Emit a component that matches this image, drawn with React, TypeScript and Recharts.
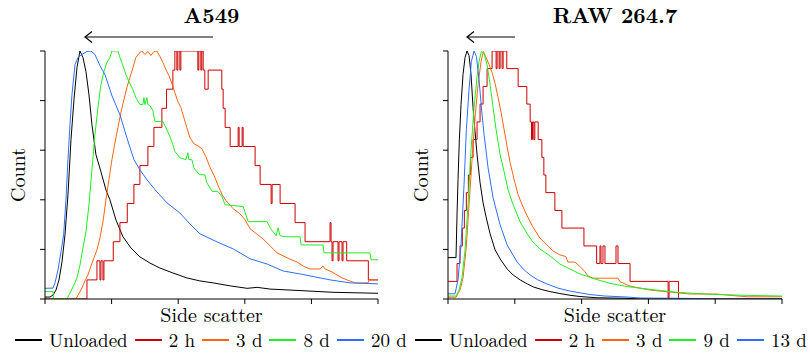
import { Line, LineChart, XAxis, YAxis } from "recharts";

type Row = [number, number];

const X_TICKS = [0, 20, 40, 60, 80, 100];
const Y_TICKS = [0, 0.2, 0.4, 0.6, 0.8, 1];

const SERIES_COLORS = ["#000000", "#cc0000", "#ff6611", "#22ee22", "#2b6fff"];

const A549_LABELS = ["Unloaded", "2 h", "3 d", "8 d", "20 d"];
const RAW_LABELS = ["Unloaded", "2 h", "3 d", "9 d", "13 d"];

// ---- A549, side scatter histograms (normalised to mode) ----
const a549Unloaded: Row[] = [
  [0, 0.008], [1.5, 0.008], [2.4, 0.016], [3.3, 0.036], [4.2, 0.077], [5.1, 0.149],
  [6.0, 0.259], [6.9, 0.42], [7.8, 0.642], [8.7, 0.804], [9.6, 0.933], [10.5, 1.0],
  [11.4, 0.974], [12.3, 0.917], [13.2, 0.824], [14.1, 0.703], [15.3, 0.582], [16.8, 0.513],
  [18.3, 0.44], [19.5, 0.4], [21.3, 0.319], [23.4, 0.251], [25.8, 0.206], [28.5, 0.17],
  [31.5, 0.145], [34.5, 0.125], [38.4, 0.105], [42.6, 0.085], [46.5, 0.073], [50.5, 0.065],
  [55.6, 0.053], [60.7, 0.043], [63.7, 0.047], [67.6, 0.04], [76.6, 0.034], [86.5, 0.027],
  [100, 0.023],
];

const a549TwoHours: Row[] = [
  [0, 0], [12.6, 0.077], [15.6, 0.154], [16.5, 0.077], [16.8, 0.154], [17.4, 0.077],
  [17.7, 0.154], [20.5, 0.231], [22.5, 0.308], [24.7, 0.385], [26.7, 0.462], [28.5, 0.538],
  [30.9, 0.615], [32.7, 0.692], [35.1, 0.769], [36.5, 0.846], [38.4, 0.923], [39.0, 1.0],
  [39.6, 0.923], [39.9, 1.0], [40.5, 0.923], [40.8, 1.0], [45.9, 0.923], [46.2, 1.0],
  [46.8, 0.923], [47.1, 1.0], [47.5, 0.923], [48.0, 0.846], [49.0, 0.923], [53.1, 0.846],
  [53.5, 0.769], [54.1, 0.692], [55.6, 0.615], [58.0, 0.692], [58.3, 0.615], [59.2, 0.692],
  [59.5, 0.615], [63.1, 0.538], [64.6, 0.462], [67.9, 0.385], [68.2, 0.462], [70.6, 0.385],
  [75.1, 0.308], [78.1, 0.231], [85.6, 0.308], [85.9, 0.231], [86.2, 0.154], [86.5, 0.231],
  [88.0, 0.154], [88.3, 0.231], [89.2, 0.154], [89.5, 0.231], [90.6, 0.154], [97.1, 0.077],
  [100, 0.077],
];

const a549ThreeDays: Row[] = [
  [0, 0], [9.3, 0], [9.9, 0.016], [10.8, 0.036], [12.0, 0.073], [12.9, 0.097], [13.8, 0.133],
  [14.7, 0.166], [15.6, 0.198], [16.5, 0.246], [17.4, 0.311], [18.3, 0.4], [19.2, 0.481],
  [20.1, 0.562], [21.0, 0.63], [21.9, 0.691], [22.8, 0.752], [23.7, 0.804], [24.6, 0.853],
  [25.5, 0.893], [26.4, 0.933], [27.3, 0.974], [28.2, 0.99], [29.1, 1.0], [30.0, 0.986],
  [30.9, 0.998], [31.8, 0.982], [32.7, 0.998], [33.6, 1.0], [34.5, 0.978], [35.4, 0.954],
  [36.3, 0.925], [37.2, 0.901], [38.1, 0.869], [39.0, 0.832], [39.9, 0.796], [40.8, 0.772],
  [41.7, 0.731], [42.6, 0.691], [43.5, 0.651], [44.7, 0.626], [45.9, 0.618], [47.1, 0.606],
  [48.3, 0.574], [49.5, 0.533], [50.8, 0.497], [52.0, 0.457], [53.2, 0.42], [54.4, 0.396],
  [56.5, 0.364], [58.6, 0.343], [60.1, 0.319], [61.6, 0.283], [63.1, 0.267], [65.5, 0.242],
  [67.6, 0.214], [69.7, 0.186], [72.7, 0.166], [75.7, 0.149], [77.5, 0.133], [79.6, 0.121],
  [82.6, 0.121], [83.5, 0.133], [84.1, 0.121], [86.2, 0.109], [87.7, 0.097], [89.2, 0.085],
  [90.7, 0.077], [93.1, 0.065], [97.0, 0.065], [97.3, 0.077], [100, 0.077],
];

const a549EightDays: Row[] = [
  [0, 0.03], [2.4, 0.03], [2.55, 0], [6.6, 0], [6.9, 0.008], [7.8, 0.032], [8.7, 0.057],
  [9.6, 0.085], [10.5, 0.137], [11.4, 0.206], [12.3, 0.271], [13.2, 0.38], [14.1, 0.521],
  [15.0, 0.663], [15.9, 0.772], [16.8, 0.865], [17.7, 0.917], [18.6, 0.954], [19.5, 0.974],
  [20.1, 1.0], [21.9, 1.0], [22.5, 0.974], [23.4, 0.941], [24.3, 0.905], [25.2, 0.877],
  [26.4, 0.844], [27.3, 0.812], [28.5, 0.784], [29.4, 0.784], [29.7, 0.812], [30.0, 0.784],
  [30.6, 0.812], [30.9, 0.784], [31.5, 0.78], [32.4, 0.76], [33.0, 0.716], [35.4, 0.716],
  [36.3, 0.691], [37.5, 0.655], [38.4, 0.622], [39.0, 0.595], [40.5, 0.57], [42.3, 0.562],
  [42.9, 0.59], [43.2, 0.562], [44.1, 0.562], [44.7, 0.529], [45.6, 0.513], [46.5, 0.501],
  [48.0, 0.501], [48.6, 0.469], [50.2, 0.434], [51.9, 0.434], [53.2, 0.412], [54.1, 0.38],
  [59.5, 0.373], [61.0, 0.312], [66.7, 0.312], [67.6, 0.287], [69.4, 0.255], [70.0, 0.287],
  [70.6, 0.255], [72.1, 0.251], [76.6, 0.251], [76.9, 0.218], [83.5, 0.218], [83.8, 0.186],
  [97.6, 0.186], [97.9, 0.158], [100, 0.158],
];

const a549TwentyDays: Row[] = [
  [0, 0.043], [2.4, 0.044], [3.0, 0.065], [3.9, 0.117], [4.8, 0.19], [5.6, 0.259],
  [6.3, 0.4], [6.9, 0.562], [7.5, 0.703], [8.1, 0.824], [9.0, 0.945], [9.9, 0.974],
  [11.1, 0.986], [12.6, 0.998], [13.8, 1.0], [15.0, 0.986], [16.5, 0.941], [18.0, 0.905],
  [20.1, 0.82], [22.5, 0.743], [24.6, 0.65], [26.7, 0.562], [28.5, 0.521], [30.6, 0.481],
  [33.6, 0.432], [36.6, 0.388], [40.5, 0.347], [43.5, 0.303], [46.5, 0.263], [51.7, 0.23],
  [56.5, 0.202], [61.6, 0.162], [66.7, 0.141], [71.5, 0.113], [76.6, 0.101], [85.6, 0.077],
  [91.6, 0.065], [100, 0.061],
];

// ---- RAW 264.7 ----
const rawUnloaded: Row[] = [
  [0, 0.167], [2.4, 0.167], [2.7, 0.339], [3.0, 0.481], [3.4, 0.642], [3.9, 0.784],
  [4.5, 0.905], [5.1, 0.974], [5.7, 1.0], [6.3, 0.982], [6.9, 0.905], [7.5, 0.772],
  [8.1, 0.675], [8.7, 0.582], [9.6, 0.469], [10.5, 0.388], [11.4, 0.331], [12.6, 0.263],
  [14.1, 0.198], [15.6, 0.162], [17.7, 0.121], [19.5, 0.097], [21.6, 0.077], [23.7, 0.061],
  [25.7, 0.048], [28.1, 0.038], [30.5, 0.03], [33.5, 0.022], [36.5, 0.015], [39.5, 0.01],
  [44.6, 0.005], [53.0, 0.003], [57.5, 0], [100, 0],
];

const rawTwoHours: Row[] = [
  [0, 0.071], [2.7, 0.143], [3.6, 0.214], [4.3, 0.286], [4.9, 0.357], [5.5, 0.429],
  [6.1, 0.5], [6.7, 0.571], [7.5, 0.643], [8.7, 0.714], [9.6, 0.786], [10.5, 0.857],
  [11.7, 0.929], [13.2, 1.0], [14.4, 0.929], [14.7, 1.0], [15.3, 0.929], [15.6, 1.0],
  [16.2, 0.929], [16.5, 1.0], [17.6, 0.929], [21.0, 0.857], [23.6, 0.786], [24.6, 0.714],
  [25.0, 0.643], [25.3, 0.714], [25.7, 0.643], [26.0, 0.714], [27.0, 0.643], [28.1, 0.571],
  [28.7, 0.5], [29.3, 0.429], [32.0, 0.357], [34.1, 0.286], [40.7, 0.214], [44.5, 0.143],
  [45.5, 0.214], [45.8, 0.143], [46.4, 0.214], [47.0, 0.143], [50.3, 0.214], [50.9, 0.143],
  [54.5, 0.071], [65.9, 0], [66.2, 0.071], [69.0, 0], [100, 0],
];

const rawThreeDays: Row[] = [
  [0, 0.007], [2.4, 0.007], [3.6, 0.036], [4.5, 0.085], [5.4, 0.198], [6.3, 0.38],
  [7.2, 0.562], [8.1, 0.731], [9.0, 0.865], [9.9, 0.958], [10.6, 0.998], [11.4, 0.974],
  [12.3, 0.945], [13.2, 0.913], [14.1, 0.869], [15.0, 0.812], [15.9, 0.752], [16.8, 0.683],
  [17.7, 0.614], [18.6, 0.55], [19.8, 0.481], [21.0, 0.42], [22.2, 0.38], [23.7, 0.335],
  [25.4, 0.291], [27.5, 0.246], [29.6, 0.218], [31.4, 0.194], [33.5, 0.178], [35.3, 0.171],
  [35.9, 0.149], [38.0, 0.149], [39.5, 0.131], [41.0, 0.11], [41.9, 0.093], [43.4, 0.084],
  [50.9, 0.084], [51.5, 0.07], [53.6, 0.057], [55.1, 0.05], [60.5, 0.036], [72.5, 0.02],
  [80.5, 0.02], [83.5, 0.016], [89.5, 0.009], [100, 0.009],
];

const rawNineDays: Row[] = [
  [0, 0.012], [2.4, 0.012], [3.3, 0.036], [4.2, 0.085], [5.1, 0.198], [6.0, 0.38],
  [6.9, 0.602], [7.8, 0.772], [8.7, 0.897], [9.3, 0.958], [10.0, 0.998], [10.8, 0.99],
  [11.7, 0.945], [12.6, 0.865], [13.5, 0.772], [14.4, 0.683], [15.6, 0.582], [16.8, 0.513],
  [18.0, 0.44], [19.5, 0.38], [21.6, 0.311], [23.7, 0.263], [25.4, 0.23], [27.5, 0.202],
  [30.5, 0.174], [33.5, 0.141], [36.5, 0.121], [39.5, 0.101], [43.4, 0.083], [48.5, 0.063],
  [53.6, 0.05], [60.5, 0.039], [68.6, 0.027], [78.4, 0.019], [88.3, 0.015], [100, 0.012],
];

const rawThirteenDays: Row[] = [
  [0, 0.021], [2.1, 0.021], [3.0, 0.077], [3.9, 0.218], [4.8, 0.461], [5.5, 0.683],
  [6.3, 0.844], [7.0, 0.958], [7.8, 1.0], [8.5, 0.978], [9.3, 0.885], [10.0, 0.772],
  [10.8, 0.663], [12.0, 0.529], [13.5, 0.408], [15.6, 0.299], [17.7, 0.218], [20.7, 0.149],
  [22.8, 0.117], [24.6, 0.097], [26.9, 0.077], [29.6, 0.061], [32.9, 0.044], [36.5, 0.032],
  [42.5, 0.018], [47.0, 0.012], [53.6, 0.008], [57.5, 0.004], [75.4, 0.002], [76.0, 0], [100, 0],
];

const toPoints = (rows: Row[]) => rows.map(([x, y]) => ({ x, y }));

type PanelProps = {
  title: string;
  labels: string[];
  series: Row[][];
  stepped: number;
  offsetLeft: number;
  plotLeft: number;
  plotRight: number;
  arrow: [number, number];
  legendLeft: number;
};

const W = 405;
const H = 353;
const PLOT_TOP = 51;
const PLOT_BOTTOM = 299;
const AXIS_BOX = 10;
const FONT = "Latin Modern Roman";

// tick marks only, no tick labels
const NoLabel = () => <g />;

function Panel({ title, labels, series, stepped, offsetLeft, plotLeft, plotRight, arrow, legendLeft }: PanelProps) {
  const cx = (plotLeft + plotRight) / 2;
  const cy = (PLOT_TOP + PLOT_BOTTOM) / 2;
  const [tail, tip] = arrow;
  const margin = {
    top: PLOT_TOP,
    right: W - plotRight,
    bottom: H - PLOT_BOTTOM - AXIS_BOX,
    left: plotLeft - AXIS_BOX,
  };
  return (
    <div style={{ position: "absolute", left: offsetLeft, top: 0, width: W, height: H }}>
      <LineChart width={W} height={H} margin={margin}>
        <XAxis
          type="number"
          dataKey="x"
          domain={[0, 100]}
          ticks={X_TICKS}
          tick={NoLabel}
          tickSize={5}
          height={AXIS_BOX}
          axisLine={{ stroke: "#000", strokeWidth: 1 }}
          tickLine={{ stroke: "#000", strokeWidth: 1 }}
          allowDataOverflow
        />
        <YAxis
          type="number"
          domain={[0, 1]}
          ticks={Y_TICKS}
          tick={NoLabel}
          tickSize={5}
          width={AXIS_BOX}
          axisLine={{ stroke: "#000", strokeWidth: 1 }}
          tickLine={{ stroke: "#000", strokeWidth: 1 }}
          allowDataOverflow
        />
        {series.map((rows, i) => (
          <Line
            key={labels[i]}
            data={toPoints(rows)}
            dataKey="y"
            type={i === stepped ? "stepAfter" : "linear"}
            stroke={SERIES_COLORS[i]}
            strokeWidth={1}
            dot={false}
            activeDot={false}
            isAnimationActive={false}
          />
        ))}
      </LineChart>
      <svg
        width={W}
        height={H}
        style={{ position: "absolute", left: 0, top: 0, pointerEvents: "none", fontFamily: FONT }}
      >
        <text x={cx} y={23} textAnchor="middle" fontSize={21.5} fontWeight="bold">
          {title}
        </text>
        <line x1={tail} y1={37} x2={tip} y2={37} stroke="#000" strokeWidth={1.2} />
        <polyline
          points={`${tip + 7},31.5 ${tip},37 ${tip + 7},42.5`}
          fill="none"
          stroke="#000"
          strokeWidth={1.2}
        />
        <text
          x={plotLeft - 20}
          y={cy}
          transform={`rotate(-90 ${plotLeft - 20} ${cy})`}
          textAnchor="middle"
          fontSize={20}
        >
          Count
        </text>
        <text x={cx} y={322} textAnchor="middle" fontSize={20}>
          Side scatter
        </text>
      </svg>
      <div
        style={{
          position: "absolute",
          left: legendLeft,
          top: 332,
          display: "flex",
          whiteSpace: "nowrap",
          fontFamily: FONT,
          fontSize: 19,
          lineHeight: "16px",
        }}
      >
        {labels.map((label, i) => (
          <div key={label} style={{ display: "flex", alignItems: "center", marginRight: 7 }}>
            <span
              style={{
                display: "inline-block",
                width: 27,
                height: 2,
                background: SERIES_COLORS[i],
                marginRight: 7,
              }}
            />
            <span>{label}</span>
          </div>
        ))}
      </div>
    </div>
  );
}

export default function App() {
  return (
    <div
      style={{
        position: "absolute",
        left: 0,
        top: 0,
        width: 810,
        height: 353,
        background: "#fff",
        overflow: "hidden",
      }}
    >
      <Panel
        title="A549"
        labels={A549_LABELS}
        series={[a549Unloaded, a549TwoHours, a549ThreeDays, a549EightDays, a549TwentyDays]}
        stepped={1}
        offsetLeft={0}
        plotLeft={45}
        plotRight={378}
        arrow={[213, 85]}
        legendLeft={15}
      />
      <Panel
        title="RAW 264.7"
        labels={RAW_LABELS}
        series={[rawUnloaded, rawTwoHours, rawThreeDays, rawNineDays, rawThirteenDays]}
        stepped={1}
        offsetLeft={405}
        plotLeft={43}
        plotRight={377}
        arrow={[110, 62]}
        legendLeft={10}
      />
    </div>
  );
}
